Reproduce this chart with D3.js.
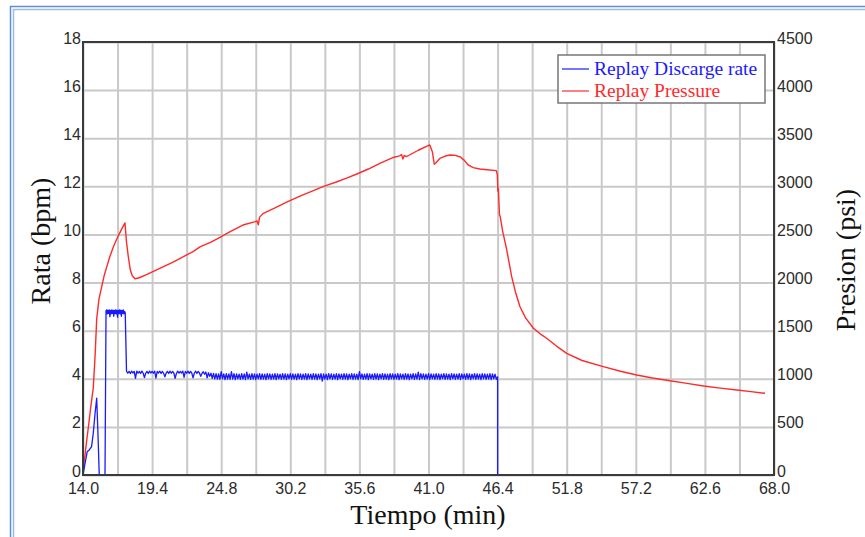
<!DOCTYPE html>
<html>
<head>
<meta charset="utf-8">
<script src="https://cdn.jsdelivr.net/npm/d3@7/dist/d3.min.js"></script>
<style>
  html, body { margin: 0; padding: 0; background: #fff; }
  svg { display: block; }
</style>
</head>
<body>
<svg id="chart" width="865" height="537"></svg>
<script>
// Time axis (min)
const timeTicks = [14.0, 19.4, 24.8, 30.2, 35.6, 41.0, 46.4, 51.8, 57.2, 62.6, 68.0];
const timeMinorGrid = [16.7, 22.1, 27.5, 32.9, 38.3, 43.7, 49.1, 54.5, 59.9, 65.3];
// Left axis: discharge rate (bpm); right axis: pressure (psi)
const rateTicks = [0, 2, 4, 6, 8, 10, 12, 14, 16, 18];
const pressureTicks = [0, 500, 1000, 1500, 2000, 2500, 3000, 3500, 4000, 4500];

// Replay Discarge rate: early ramp as [time, bpm]
const rateRamp = [
  [14.0, 0], [14.15, 0.45], [14.33, 0.97], [14.5, 1.05], [14.67, 1.18], [14.8, 1.73],
  [14.95, 2.6], [15.07, 3.19], [15.14, 2.16], [15.2, 1.2], [15.27, 0], [15.72, 0]
];
// High-rate stage, logged every 0.05 min from 15.8 min
const rateHighStart = 15.8;
const rateHighStep = 0.05;
const rateHighValues = [
  6.82, 6.86, 6.7, 6.85, 6.72, 6.86, 6.58, 6.84, 6.7, 6.86, 6.72, 6.85, 6.6, 6.84, 6.71, 6.86,
  6.7, 6.85, 6.56, 6.84, 6.72, 6.86, 6.7, 6.85, 6.6, 6.84, 6.72, 6.86, 6.7, 6.8, 6.74
];
// Main stage, logged every 0.1 min from 17.4 min to 46.4 min
const rateMainStart = 17.4;
const rateMainStep = 0.1;
const rateMainValues = [
  4.32, 4.23, 4.31, 4.22, 4.32, 4.24, 4.31, 4.02, 4.32, 4.23,
  4.31, 4.22, 4.32, 4.24, 4.05, 4.23, 4.31, 4.22, 4.32, 4.24,
  4.31, 4.23, 4.32, 4.03, 4.31, 4.24, 4.32, 4.22, 4.31, 4.23,
  4.08, 4.24, 4.31, 4.22, 4.32, 4.23, 4.31, 4.24, 4.02, 4.22,
  4.32, 4.23, 4.31, 4.24, 4.32, 4.06, 4.31, 4.23, 4.32, 4.22,
  4.31, 4.24, 4.04, 4.23, 4.32, 4.22, 4.31, 4.24, 4.10, 4.23,
  4.29, 4.19, 4.28, 4.04, 4.25, 4.10, 4.23, 4.02, 4.22, 4.00,
  4.21, 3.99, 4.20, 3.98, 4.30, 4.00, 4.20, 3.97, 4.21, 3.99,
  4.20, 3.98, 4.30, 3.99, 4.21, 3.97, 4.20, 4.00, 4.19, 3.98,
  4.21, 3.99, 4.20, 3.97, 4.28, 4.00, 4.19, 3.98, 4.21, 3.99,
  4.20, 3.97, 4.19, 4.00, 4.21, 3.98, 4.20, 3.99, 4.19, 3.97,
  4.21, 4.00, 4.20, 3.98, 4.19, 3.99, 4.21, 3.97, 4.20, 4.00,
  4.19, 3.98, 4.21, 3.99, 4.20, 3.97, 4.19, 4.00, 4.21, 3.98,
  4.20, 3.99, 4.19, 3.97, 4.21, 4.00, 4.20, 3.98, 4.19, 3.99,
  4.21, 3.97, 4.20, 4.00, 4.19, 3.98, 4.21, 3.99, 4.20, 3.97,
  4.19, 4.00, 4.21, 3.90, 4.20, 3.99, 4.19, 3.97, 4.21, 4.00,
  4.20, 3.98, 4.19, 3.99, 4.21, 3.97, 4.20, 4.00, 4.19, 3.98,
  4.21, 3.99, 4.20, 3.97, 4.19, 4.00, 4.21, 3.98, 4.20, 3.99,
  4.19, 3.97, 4.30, 4.00, 4.20, 3.98, 4.19, 3.99, 4.21, 3.97,
  4.20, 4.00, 4.19, 3.98, 4.21, 3.99, 4.20, 3.97, 4.19, 4.00,
  4.21, 3.98, 4.20, 3.99, 4.19, 3.97, 4.21, 4.00, 4.20, 3.98,
  4.19, 3.99, 4.21, 3.97, 4.20, 4.00, 4.19, 3.98, 4.21, 3.99,
  4.20, 3.97, 4.19, 4.00, 4.21, 3.98, 4.20, 3.99, 4.28, 3.97,
  4.21, 4.00, 4.20, 3.98, 4.19, 3.99, 4.21, 3.97, 4.20, 4.00,
  4.19, 3.98, 4.21, 3.99, 4.20, 3.97, 4.19, 4.00, 4.21, 3.98,
  4.20, 3.99, 4.19, 3.97, 4.21, 4.00, 4.20, 3.98, 4.19, 3.99,
  4.21, 3.97, 4.20, 4.00, 4.19, 3.98, 4.21, 3.99, 4.20, 3.97,
  4.19, 4.00, 4.21, 3.98, 4.20, 3.99, 4.19, 3.97, 4.21, 4.00,
  4.20, 3.98, 4.19, 3.99, 4.21, 3.97, 4.20, 4.00, 4.19, 3.98,
  4.08
];
const rateShutIn = [[46.4, 0]];

// Replay Pressure as [time, psi]
const pressureSeries = [
  [14.0, 60], [14.15, 200], [14.3, 370], [14.45, 530], [14.6, 700], [14.8, 900], [14.95, 1250],
  [15.07, 1620], [15.25, 1830], [15.45, 1950], [15.65, 2070], [15.85, 2160], [16.1, 2270],
  [16.37, 2370], [16.7, 2470], [17.0, 2550], [17.28, 2620], [17.4, 2420], [17.54, 2270],
  [17.7, 2130], [17.85, 2070], [18.06, 2040], [18.4, 2050], [19.0, 2085], [20.0, 2148],
  [21.0, 2210], [22.0, 2280], [22.6, 2321], [23.14, 2370], [24.0, 2420], [24.7, 2470],
  [25.5, 2530], [26.5, 2598], [27.4, 2630], [27.6, 2640], [27.7, 2600], [27.8, 2680],
  [28.1, 2720], [29.0, 2775], [30.0, 2840], [31.0, 2900], [32.0, 2955], [32.8, 3000],
  [33.8, 3045], [34.6, 3085], [35.4, 3128], [36.3, 3180], [37.2, 3239], [38.25, 3300],
  [38.74, 3316], [38.9, 3330], [39.0, 3283], [39.1, 3320], [39.3, 3310], [40.2, 3375],
  [41.1, 3430], [41.3, 3360], [41.45, 3230], [41.55, 3240], [41.9, 3291], [42.3, 3315],
  [42.7, 3326], [43.1, 3322], [43.5, 3305], [43.8, 3270], [44.1, 3222], [44.5, 3195],
  [45.0, 3180], [45.6, 3172], [46.3, 3163], [46.38, 3120], [46.42, 2950], [46.46, 2980],
  [46.5, 2850], [46.55, 2700], [46.6, 2690], [46.8, 2530], [47.1, 2350], [47.5, 2061],
  [47.8, 1900], [48.15, 1749], [48.6, 1630], [49.2, 1525], [49.7, 1470], [50.23, 1421],
  [51.0, 1340], [51.8, 1264], [53.0, 1190], [54.66, 1126], [56.0, 1078], [57.27, 1039],
  [58.5, 1008], [59.87, 980], [61.2, 952], [62.5, 925], [63.8, 903], [65.1, 883],
  [66.2, 866], [67.3, 849]
];

const legendLabels = ["Replay Discarge rate", "Replay Pressure"];
const seriesColors = ["#1a1aff", "#ff2a2a"];

// Assemble the rate record from its logged stages
const rateSeries = rateRamp
  .concat(rateHighValues.map((v, i) => [rateHighStart + i * rateHighStep, v]))
  .concat(rateMainValues.map((v, i) => [rateMainStart + i * rateMainStep, v]))
  .concat(rateShutIn);

const svg = d3.select("#chart");
const W = 865, H = 537;
const plot = { left: 83, right: 774, top: 42, bottom: 475 };

// Window frame
svg.append("rect").attr("x", 10.5).attr("y", 6.5).attr("width", W).attr("height", H)
  .attr("fill", "none").attr("stroke", "#5d8fd3").attr("stroke-width", 1.5);
svg.append("rect").attr("x", 13.5).attr("y", 9.5).attr("width", W).attr("height", H)
  .attr("fill", "none").attr("stroke", "#9bbbe6").attr("stroke-width", 1.5);

const x = d3.scaleLinear().domain([14, 68]).range([plot.left, plot.right]);
const yRate = d3.scaleLinear().domain([0, 18]).range([plot.bottom, plot.top]);
const yPres = d3.scaleLinear().domain([0, 4500]).range([plot.bottom, plot.top]);

// Grid
const gridColor = "#c9c9c9";
const grid = svg.append("g");
grid.append("g")
  .attr("transform", `translate(0,${plot.bottom})`)
  .call(d3.axisBottom(x).tickValues(timeTicks.concat(timeMinorGrid))
    .tickSize(-(plot.bottom - plot.top)).tickFormat(""))
  .call(g => g.select(".domain").remove())
  .call(g => g.selectAll("line").attr("stroke", gridColor).attr("stroke-width", 2));
grid.append("g")
  .attr("transform", `translate(${plot.left},0)`)
  .call(d3.axisLeft(yRate).tickValues(rateTicks)
    .tickSize(-(plot.right - plot.left)).tickFormat(""))
  .call(g => g.select(".domain").remove())
  .call(g => g.selectAll("line").attr("stroke", gridColor).attr("stroke-width", 2));

// Series
const rateLine = d3.line().x(d => x(d[0])).y(d => yRate(d[1]));
const presLine = d3.line().x(d => x(d[0])).y(d => yPres(d[1]));

svg.append("path").datum(pressureSeries)
  .attr("d", presLine).attr("fill", "none")
  .attr("stroke", seriesColors[1]).attr("stroke-width", 1.4).attr("stroke-linejoin", "round");
svg.append("path").datum(rateSeries)
  .attr("d", rateLine).attr("fill", "none")
  .attr("stroke", seriesColors[0]).attr("stroke-width", 1.3).attr("stroke-linejoin", "round");

// Plot border
svg.append("rect")
  .attr("x", plot.left).attr("y", plot.top)
  .attr("width", plot.right - plot.left).attr("height", plot.bottom - plot.top)
  .attr("fill", "none").attr("stroke", "#3a3a3a").attr("stroke-width", 2);

// Tick labels
const tickFont = "'Liberation Sans', Arial, sans-serif";
const styleTicks = g => {
  g.select(".domain").remove();
  g.selectAll("line").remove();
  g.selectAll("text").attr("font-family", tickFont).attr("font-size", 16).attr("fill", "#2b2b2b");
};
svg.append("g")
  .attr("transform", `translate(0,${plot.bottom})`)
  .call(d3.axisBottom(x).tickValues(timeTicks).tickFormat(d3.format(".1f")).tickSize(0))
  .call(styleTicks)
  .call(g => g.selectAll("text").attr("y", 19).attr("dy", 0));
svg.append("g")
  .attr("transform", `translate(${plot.left},0)`)
  .call(d3.axisLeft(yRate).tickValues(rateTicks).tickFormat(d3.format("d")).tickSize(0))
  .call(styleTicks)
  .call(g => g.selectAll("text").attr("x", -2).attr("y", 1).attr("dy", 0));
svg.append("g")
  .attr("transform", `translate(${plot.right},0)`)
  .call(d3.axisRight(yPres).tickValues(pressureTicks).tickFormat(d3.format("d")).tickSize(0))
  .call(styleTicks)
  .call(g => g.selectAll("text").attr("x", 3).attr("y", 1).attr("dy", 0));

// Axis titles
const titleFont = "'Liberation Serif', 'Times New Roman', serif";
svg.append("text").text("Tiempo (min)")
  .attr("x", 428).attr("y", 524).attr("text-anchor", "middle")
  .attr("font-family", titleFont).attr("font-size", 28).attr("fill", "#111");
svg.append("text").text("Rata (bpm)")
  .attr("transform", "translate(50,241) rotate(-90)").attr("text-anchor", "middle")
  .attr("font-family", titleFont).attr("font-size", 28).attr("fill", "#111");
svg.append("text").text("Presion (psi)")
  .attr("transform", "translate(855,260) rotate(-90)").attr("text-anchor", "middle")
  .attr("font-family", titleFont).attr("font-size", 28).attr("fill", "#111");

// Legend
const legend = svg.append("g");
legend.append("rect").attr("x", 558).attr("y", 55).attr("width", 207).attr("height", 48)
  .attr("fill", "#fff").attr("stroke", "#777").attr("stroke-width", 1.5);
legendLabels.forEach((label, i) => {
  const cy = 69 + i * 22;
  legend.append("line").attr("x1", 562).attr("x2", 589).attr("y1", cy).attr("y2", cy)
    .attr("stroke", seriesColors[i]).attr("stroke-width", 1.2);
  legend.append("text").text(label)
    .attr("x", 594).attr("y", cy + 6)
    .attr("font-family", titleFont).attr("font-size", 19.5).attr("fill", seriesColors[i]);
});
</script>
</body>
</html>
